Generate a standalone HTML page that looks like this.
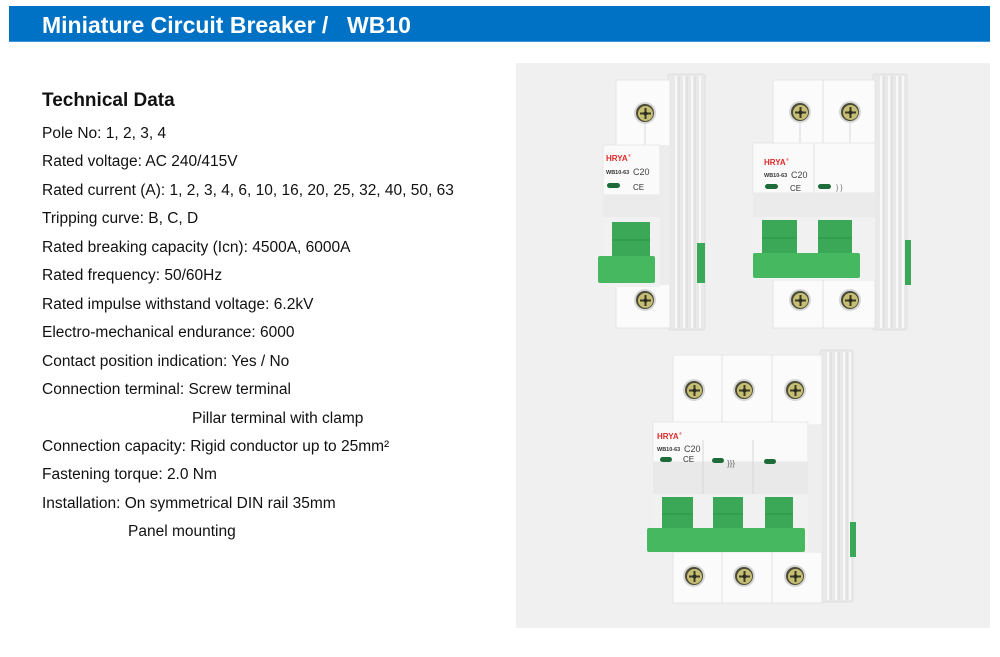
<!DOCTYPE html>
<html><head><meta charset="utf-8">
<style>
html,body{margin:0;padding:0;background:#fff;}
body{width:1000px;height:657px;position:relative;overflow:hidden;font-family:"Liberation Sans",Arial,sans-serif;}
.bar{position:absolute;left:9px;top:6px;width:981px;height:36px;background:#0072c6;border-bottom:1px solid #3f93d6;box-sizing:border-box;}
.t{position:absolute;color:#fff;font-weight:bold;font-size:23px;line-height:26px;white-space:pre;top:12px;}
.h2{position:absolute;left:42px;top:90px;font-weight:bold;font-size:19px;line-height:22px;color:#111;white-space:nowrap;}
.lines{position:absolute;left:42px;top:120px;font-size:15.5px;line-height:28.46px;color:#111;white-space:nowrap;}
.lines div{height:28.46px;margin:0;padding-top:0;}
svg{position:absolute;left:0;top:0;}
</style></head><body>
<div class="bar"></div>
<div class="t" style="left:42px;">Miniature Circuit Breaker /</div>
<div class="t" style="left:347px;">WB10</div>
<div class="h2">Technical Data</div>
<div class="lines"><div>Pole No: 1, 2, 3, 4</div><div>Rated voltage: AC 240/415V</div><div>Rated current (A): 1, 2, 3, 4, 6, 10, 16, 20, 25, 32, 40, 50, 63</div><div>Tripping curve: B, C, D</div><div>Rated breaking capacity (Icn): 4500A, 6000A</div><div>Rated frequency: 50/60Hz</div><div>Rated impulse withstand voltage: 6.2kV</div><div>Electro-mechanical endurance: 6000</div><div>Contact position indication: Yes / No</div><div>Connection terminal: Screw terminal</div><div style="padding-left:150px;">Pillar terminal with clamp</div><div>Connection capacity: Rigid conductor up to 25mm²</div><div>Fastening torque: 2.0 Nm</div><div>Installation: On symmetrical DIN rail 35mm</div><div style="padding-left:86px;">Panel mounting</div></div>

<svg width="1000" height="657" viewBox="0 0 1000 657" xmlns="http://www.w3.org/2000/svg">
<defs>
<g id="screw">
<circle r="11" fill="#d6d6d6"/>
<circle r="9" fill="#4a4a38"/>
<circle r="7.5" cx="0.5" cy="0.5" fill="#c6bf73"/>
<path d="M-5 0.5H6M0.5 -5V6" stroke="#3a3a28" stroke-width="2"/>
<circle r="2" cx="0.5" cy="0.5" fill="#2e2e20"/>
</g>
</defs>
<rect x="516" y="63" width="474" height="565" fill="#f0f0f0"/>

<!-- 1-pole -->
<g>
<rect x="668" y="74" width="37" height="256" rx="2" fill="#e9e9e9" stroke="#dddddd" stroke-width="0.8"/>
<path d="M676 76V328M684 76V328M692 76V328M700 76V328" stroke="#f8f8f8" stroke-width="2"/>
<path d="M679 76V328M687 76V328M695 76V328" stroke="#dcdcdc" stroke-width="1"/>
<rect x="697" y="243" width="8" height="40" fill="#3aa856"/>
<rect x="616" y="80" width="54" height="68" rx="2" fill="#fbfbfb" stroke="#e2e2e2" stroke-width="0.8"/>
<rect x="616" y="283" width="54" height="45" fill="#fbfbfb" stroke="#e2e2e2" stroke-width="0.8"/>
<line x1="645" y1="124" x2="645" y2="146" stroke="#d8d8d8"/>
<rect x="660" y="145" width="10" height="140" fill="#ececec"/>
<rect x="603" y="145" width="57" height="50" fill="#fafafa" stroke="#e4e4e4" stroke-width="0.8"/>
<rect x="603" y="195" width="57" height="22" fill="#ebebeb"/>
<rect x="603" y="217" width="57" height="70" fill="#f1f1f1"/>
<rect x="612" y="222" width="38" height="36" fill="#3aa856"/>
<line x1="612" y1="240" x2="650" y2="240" stroke="#2f9448"/>
<rect x="598" y="256" width="57" height="27" rx="2" fill="#46b860"/>
<use href="#screw" x="645" y="113"/>
<use href="#screw" x="645" y="300"/>
<text x="606" y="161" font-size="8" font-weight="bold" fill="#e02828" font-family="Liberation Sans,sans-serif">HRYA</text>
<text x="628" y="157" font-size="4" fill="#e02828" font-family="Liberation Sans,sans-serif">®</text>
<text x="606" y="174" font-size="5.5" font-weight="bold" fill="#333" font-family="Liberation Sans,sans-serif">WB10-63</text>
<text x="633" y="175" font-size="9" fill="#444" font-family="Liberation Sans,sans-serif">C20</text>
<rect x="607" y="183" width="13" height="5" rx="2.5" fill="#1e6b3a"/>
<text x="633" y="190" font-size="8" fill="#333" font-family="Liberation Sans,sans-serif">CE</text>
</g>

<!-- 2-pole -->
<g>
<rect x="873" y="74" width="34" height="256" rx="2" fill="#e9e9e9" stroke="#dddddd" stroke-width="0.8"/>
<path d="M881 76V328M889 76V328M897 76V328M903 76V328" stroke="#f8f8f8" stroke-width="2"/>
<path d="M884 76V328M892 76V328M900 76V328" stroke="#dcdcdc" stroke-width="1"/>
<rect x="905" y="240" width="6" height="45" fill="#3aa856"/>
<rect x="773" y="80" width="102" height="65" rx="2" fill="#fbfbfb" stroke="#e2e2e2" stroke-width="0.8"/>
<line x1="823" y1="80" x2="823" y2="145" stroke="#e0e0e0"/>
<rect x="773" y="280" width="102" height="48" fill="#fbfbfb" stroke="#e2e2e2" stroke-width="0.8"/>
<line x1="823" y1="280" x2="823" y2="328" stroke="#e0e0e0"/>
<line x1="800" y1="123" x2="800" y2="144" stroke="#d8d8d8"/>
<line x1="850" y1="123" x2="850" y2="144" stroke="#d8d8d8"/>
<rect x="753" y="143" width="122" height="50" fill="#fafafa" stroke="#e4e4e4" stroke-width="0.8"/>
<line x1="814" y1="143" x2="814" y2="217" stroke="#e2e2e2"/>
<rect x="753" y="193" width="122" height="24" fill="#ebebeb"/>
<rect x="753" y="217" width="122" height="63" fill="#f1f1f1"/>
<rect x="762" y="220" width="35" height="34" fill="#3aa856"/>
<rect x="818" y="220" width="34" height="34" fill="#3aa856"/>
<line x1="762" y1="238" x2="797" y2="238" stroke="#2f9448"/>
<line x1="818" y1="238" x2="852" y2="238" stroke="#2f9448"/>
<rect x="753" y="253" width="107" height="25" rx="2" fill="#46b860"/>
<use href="#screw" x="800" y="112"/>
<use href="#screw" x="850" y="112"/>
<use href="#screw" x="800" y="300"/>
<use href="#screw" x="850" y="300"/>
<text x="764" y="165" font-size="8" font-weight="bold" fill="#e02828" font-family="Liberation Sans,sans-serif">HRYA</text>
<text x="786" y="161" font-size="4" fill="#e02828" font-family="Liberation Sans,sans-serif">®</text>
<text x="764" y="177" font-size="5.5" font-weight="bold" fill="#333" font-family="Liberation Sans,sans-serif">WB10-63</text>
<text x="791" y="178" font-size="9" fill="#444" font-family="Liberation Sans,sans-serif">C20</text>
<rect x="765" y="184" width="13" height="5" rx="2.5" fill="#1e6b3a"/>
<rect x="818" y="184" width="13" height="5" rx="2.5" fill="#1e6b3a"/>
<text x="790" y="191" font-size="8" fill="#333" font-family="Liberation Sans,sans-serif">CE</text>
<text x="836" y="190" font-size="7" fill="#666" font-family="Liberation Sans,sans-serif">} }</text>
</g>

<!-- 3-pole -->
<g>
<rect x="820" y="350" width="33" height="252" rx="2" fill="#e9e9e9" stroke="#dddddd" stroke-width="0.8"/>
<path d="M828 352V600M836 352V600M844 352V600M850 352V600" stroke="#f8f8f8" stroke-width="2"/>
<path d="M831 352V600M839 352V600M847 352V600" stroke="#dcdcdc" stroke-width="1"/>
<rect x="850" y="522" width="6" height="35" fill="#3aa856"/>
<rect x="673" y="355" width="149" height="70" rx="2" fill="#fbfbfb" stroke="#e2e2e2" stroke-width="0.8"/>
<line x1="722" y1="355" x2="722" y2="425" stroke="#e0e0e0"/>
<line x1="772" y1="355" x2="772" y2="425" stroke="#e0e0e0"/>
<rect x="673" y="552" width="149" height="51" fill="#fbfbfb" stroke="#e2e2e2" stroke-width="0.8"/>
<line x1="722" y1="552" x2="722" y2="603" stroke="#e0e0e0"/>
<line x1="772" y1="552" x2="772" y2="603" stroke="#e0e0e0"/>
<rect x="653" y="422" width="155" height="40" fill="#fafafa" stroke="#e4e4e4" stroke-width="0.8"/>
<rect x="653" y="462" width="155" height="32" fill="#e9e9e9"/>
<line x1="703" y1="440" x2="703" y2="494" stroke="#d6d6d6"/>
<line x1="753" y1="440" x2="753" y2="494" stroke="#d6d6d6"/>
<rect x="808" y="425" width="14" height="127" fill="#eeeeee"/>
<rect x="653" y="494" width="155" height="58" fill="#f1f1f1"/>
<rect x="662" y="497" width="31" height="32" fill="#3aa856"/>
<rect x="713" y="497" width="30" height="32" fill="#3aa856"/>
<rect x="765" y="497" width="28" height="32" fill="#3aa856"/>
<line x1="662" y1="514" x2="693" y2="514" stroke="#2f9448"/>
<line x1="713" y1="514" x2="743" y2="514" stroke="#2f9448"/>
<line x1="765" y1="514" x2="793" y2="514" stroke="#2f9448"/>
<rect x="647" y="528" width="158" height="24" rx="2" fill="#46b860"/>
<use href="#screw" x="694" y="390"/>
<use href="#screw" x="744" y="390"/>
<use href="#screw" x="795" y="390"/>
<use href="#screw" x="694" y="576"/>
<use href="#screw" x="744" y="576"/>
<use href="#screw" x="795" y="576"/>
<text x="657" y="439" font-size="8" font-weight="bold" fill="#e02828" font-family="Liberation Sans,sans-serif">HRYA</text>
<text x="679" y="435" font-size="4" fill="#e02828" font-family="Liberation Sans,sans-serif">®</text>
<text x="657" y="451" font-size="5.5" font-weight="bold" fill="#333" font-family="Liberation Sans,sans-serif">WB10-63</text>
<text x="684" y="452" font-size="9" fill="#444" font-family="Liberation Sans,sans-serif">C20</text>
<rect x="660" y="457" width="12" height="5" rx="2.5" fill="#1e6b3a"/>
<rect x="712" y="458" width="12" height="5" rx="2.5" fill="#1e6b3a"/>
<rect x="764" y="459" width="12" height="5" rx="2.5" fill="#1e6b3a"/>
<text x="683" y="462" font-size="8" fill="#333" font-family="Liberation Sans,sans-serif">CE</text>
<text x="727" y="466" font-size="8" fill="#666" font-family="Liberation Sans,sans-serif">}}}</text>
</g>
</svg>
</body></html>
